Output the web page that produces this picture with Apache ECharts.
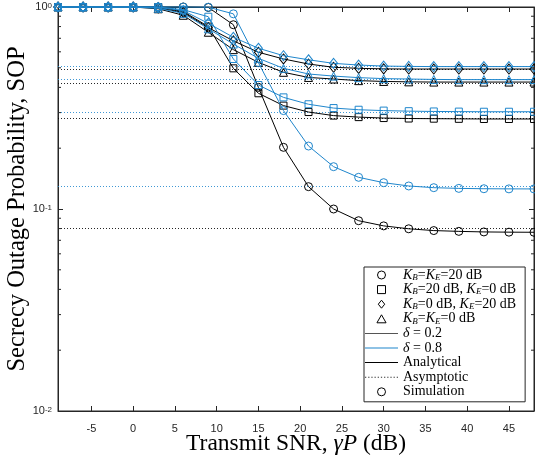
<!DOCTYPE html>
<html>
<head>
<meta charset="UTF-8">
<title>SOP vs transmit SNR</title>
<script src="https://cdn.jsdelivr.net/npm/echarts@6/dist/echarts.min.js"></script>
<style>
  html, body { margin: 0; background: #fff; }
  #main { width: 535px; height: 456px; }
</style>
</head>
<body>
<div id="main"></div>
<script>
// transmit SNR (dB)
const snr = [-9, -6, -3, 0, 3, 6, 9, 12, 15, 18, 21, 24, 27, 30, 33, 36, 39, 42, 45, 48];
const xTicks = [-5, 0, 5, 10, 15, 20, 25, 30, 35, 40, 45];

// delta = 0.2 (black)
const circ02 = [1, 1, 1, 1, 1, 1, 0.995, 0.817, 0.40, 0.202, 0.129, 0.100, 0.0875, 0.0825, 0.0798, 0.0782, 0.0775, 0.077, 0.0768, 0.0767];
const sq02   = [1, 1, 1, 1, 1, 0.95, 0.80, 0.497, 0.374, 0.325, 0.302, 0.290, 0.285, 0.282, 0.2805, 0.280, 0.2795, 0.279, 0.279, 0.279];
const dia02  = [1, 1, 1, 1, 0.99, 0.94, 0.79, 0.68, 0.597, 0.553, 0.522, 0.503, 0.497, 0.494, 0.493, 0.493, 0.493, 0.493, 0.493, 0.493];
const tri02  = [1, 1, 1, 1, 0.98, 0.91, 0.75, 0.615, 0.532, 0.475, 0.448, 0.44, 0.432, 0.428, 0.426, 0.425, 0.425, 0.425, 0.425, 0.425];
// delta = 0.8 (blue)
const circ08 = [1, 1, 1, 1, 1, 1, 0.998, 0.925, 0.53, 0.307, 0.205, 0.162, 0.1435, 0.135, 0.130, 0.1275, 0.1265, 0.126, 0.1258, 0.1257];
const sq08   = [1, 1, 1, 1, 1, 0.97, 0.895, 0.553, 0.411, 0.357, 0.330, 0.316, 0.310, 0.307, 0.305, 0.304, 0.3035, 0.303, 0.303, 0.303];
const dia08  = [1, 1, 1, 1, 0.995, 0.96, 0.83, 0.708, 0.625, 0.574, 0.548, 0.526, 0.516, 0.510, 0.508, 0.507, 0.507, 0.507, 0.507, 0.507];
const tri08  = [1, 1, 1, 1, 0.985, 0.93, 0.78, 0.656, 0.557, 0.497, 0.466, 0.455, 0.447, 0.442, 0.44, 0.438, 0.437, 0.437, 0.437, 0.437];

// asymptotes: circle, square, diamond, triangle
const asym02 = [0.0767, 0.279, 0.493, 0.425];
const asym08 = [0.1256, 0.303, 0.507, 0.437];

const BLACK = '#000000';
const BLUE = '#1f86cc';
const AX = '#262626';

const shapes = [
  { sym: 'circle', size: 8 },
  { sym: 'rect', size: 7 },
  { sym: 'diamond', size: [8, 10] },
  { sym: 'triangle', size: 8 }
];

// minor tick values on the log axis (2..9 x 10^e)
const minorVals = [];
for (let e = -2; e < 0; e++) {
  for (let k = 2; k <= 9; k++) minorVals.push(+(k * Math.pow(10, e)).toPrecision(3));
}

function curve(name, ys, color, shape, asym) {
  return {
    name: name,
    type: 'line',
    data: snr.map((x, i) => [x, ys[i]]),
    symbol: shape.sym,
    symbolSize: shape.size,
    clip: false,
    lineStyle: { color: color, width: 1 },
    itemStyle: { color: 'rgba(0,0,0,0)', borderColor: color, borderWidth: 1 },
    emphasis: { disabled: true },
    markLine: {
      silent: true,
      symbol: 'none',
      z: 1,
      label: { show: false },
      lineStyle: { color: color, width: 1, type: [1, 2], opacity: 0.85 },
      data: [{ yAxis: asym }]
    },
    z: color === BLUE ? 3 : 2
  };
}

const series = [
  curve('c02', circ02, BLACK, shapes[0], asym02[0]),
  curve('s02', sq02, BLACK, shapes[1], asym02[1]),
  curve('d02', dia02, BLACK, shapes[2], asym02[2]),
  curve('t02', tri02, BLACK, shapes[3], asym02[3]),
  curve('c08', circ08, BLUE, shapes[0], asym08[0]),
  curve('s08', sq08, BLUE, shapes[1], asym08[1]),
  curve('d08', dia08, BLUE, shapes[2], asym08[2]),
  curve('t08', tri08, BLUE, shapes[3], asym08[3])
];

// minor ticks on left and right edges, placed by the log axis
series.push({
  type: 'custom',
  silent: true,
  clip: false,
  z: 4,
  data: minorVals.map(v => [-9, v]),
  renderItem: (params, api) => {
    const p = api.coord([api.value(0), api.value(1)]);
    const cs = params.coordSys;
    const st = { stroke: AX, lineWidth: 1 };
    return {
      type: 'group',
      children: [
        { type: 'line', shape: { x1: cs.x, y1: p[1], x2: cs.x + 3, y2: p[1] }, style: st },
        { type: 'line', shape: { x1: cs.x + cs.width - 3, y1: p[1], x2: cs.x + cs.width, y2: p[1] }, style: st }
      ]
    };
  }
});

// legend entries
let dots = '';
for (let i = 0; i < 11; i++) dots += 'M' + (i * 3) + ',0h1.2v1h-1.2z';
const hollow = { color: 'rgba(0,0,0,0)', borderColor: '#000', borderWidth: 1 };
const lineIcon = 'path://M0,0H32V1H0Z';
const legendItems = [
  { name: 'KB=KE=20 dB', text: '{k|K}{s|B}{t|=}{k|K}{s|E}{t|=20 dB}', icon: 'circle', itemStyle: hollow },
  { name: 'KB=20 dB, KE=0 dB', text: '{k|K}{s|B}{t|=20 dB, }{k|K}{s|E}{t|=0 dB}', icon: 'path://M0,0H7V7H0Z', itemStyle: hollow },
  { name: 'KB=0 dB, KE=20 dB', text: '{k|K}{s|B}{t|=0 dB, }{k|K}{s|E}{t|=20 dB}', icon: 'path://M4,0L8,5L4,10L0,5Z', itemStyle: hollow },
  { name: 'KB=KE=0 dB', text: '{k|K}{s|B}{t|=}{k|K}{s|E}{t|=0 dB}', icon: 'path://M4,0L8,7H0Z', itemStyle: hollow },
  { name: 'delta = 0.2', text: '{k|δ}{t| = 0.2}', icon: lineIcon, itemStyle: { color: '#555', borderWidth: 0 } },
  { name: 'delta = 0.8', text: '{k|δ}{t| = 0.8}', icon: lineIcon, itemStyle: { color: BLUE, borderWidth: 0 } },
  { name: 'Analytical', text: '{t|Analytical}', icon: lineIcon, itemStyle: { color: '#000', borderWidth: 0 } },
  { name: 'Asymptotic', text: '{t|Asymptotic}', icon: 'path://' + dots, itemStyle: { color: '#333', borderWidth: 0 } },
  { name: 'Simulation', text: '{t|Simulation}', icon: 'circle', itemStyle: hollow }
];
const legendText = {};
legendItems.forEach(it => {
  legendText[it.name] = it.text;
  series.push({ name: it.name, type: 'line', data: [] });
});

const chart = echarts.init(document.getElementById('main'));

const tickLabel = { color: AX, fontFamily: 'Liberation Sans', fontSize: 11 };
const SERIF = 'Liberation Serif';

chart.setOption({
  animation: false,
  backgroundColor: '#fff',
  grid: {
    left: 58, right: 1, top: 7, bottom: 45,
    outerBoundsMode: 'none',
    show: true, borderColor: AX, borderWidth: 1
  },
  legend: {
    orient: 'vertical',
    left: 364,
    top: 267,
    selectedMode: false,
    backgroundColor: '#fff',
    borderColor: AX,
    borderWidth: 1,
    padding: [1, 9, 3, 1],
    itemWidth: 33,
    itemHeight: 8,
    itemGap: 0.6,
    symbolKeepAspect: true,
    data: legendItems.map(it => ({ name: it.name, icon: it.icon, itemStyle: it.itemStyle })),
    formatter: name => legendText[name],
    textStyle: {
      fontFamily: SERIF,
      fontSize: 14,
      color: '#000',
      lineHeight: 14,
      rich: {
        t: { fontFamily: SERIF, fontSize: 14, lineHeight: 14 },
        k: { fontFamily: SERIF, fontSize: 14, fontStyle: 'italic', lineHeight: 14 },
        s: { fontFamily: SERIF, fontSize: 9, fontStyle: 'italic', lineHeight: 14, verticalAlign: 'bottom' }
      }
    }
  },
  xAxis: [{
    type: 'value',
    min: -9,
    max: 48,
    name: '{t|Transmit SNR, }{i|γP}{t| (dB)}',
    nameLocation: 'middle',
    nameGap: 21,
    nameMoveOverlap: false,
    nameTextStyle: {
      rich: {
        t: { fontFamily: SERIF, fontSize: 23.5, color: '#000' },
        i: { fontFamily: SERIF, fontSize: 23.5, fontStyle: 'italic', color: '#000' }
      }
    },
    splitLine: { show: false },
    axisLine: { onZero: false, lineStyle: { color: AX } },
    axisTick: { inside: true, length: 5, customValues: xTicks, lineStyle: { color: AX } },
    axisLabel: Object.assign({ margin: 12, customValues: xTicks }, tickLabel)
  }, {
    type: 'value',
    position: 'top',
    min: -9,
    max: 48,
    splitLine: { show: false },
    axisLine: { onZero: false, lineStyle: { color: AX } },
    axisTick: { inside: true, length: 5, customValues: xTicks, lineStyle: { color: AX } },
    axisLabel: { show: false }
  }],
  yAxis: [{
    type: 'log',
    logBase: 10,
    min: 0.01,
    max: 1,
    interval: 1,
    name: 'Secrecy Outage Probability, SOP',
    nameLocation: 'middle',
    nameGap: 28,
    nameMoveOverlap: false,
    nameTextStyle: { fontFamily: SERIF, fontSize: 24.5, color: '#000' },
    splitLine: { show: false },
    axisLine: { show: true, onZero: false, lineStyle: { color: AX } },
    axisTick: { inside: true, length: 5, lineStyle: { color: AX } },
    axisLabel: Object.assign({
      margin: 6,
      formatter: v => '{b|10}{e|' + Math.round(Math.log10(v)) + '}',
      rich: {
        b: { fontFamily: 'Liberation Sans', fontSize: 11, color: AX },
        e: { fontFamily: 'Liberation Sans', fontSize: 8, color: AX, verticalAlign: 'top' }
      }
    }, tickLabel)
  }, {
    type: 'log', logBase: 10, min: 0.01, max: 1, interval: 1, position: 'right',
    splitLine: { show: false }, axisLine: { show: true, onZero: false, lineStyle: { color: AX } }, axisLabel: { show: false },
    axisTick: { inside: true, length: 5, lineStyle: { color: AX } }
  }],
  series: series
});
</script>
</body>
</html>
